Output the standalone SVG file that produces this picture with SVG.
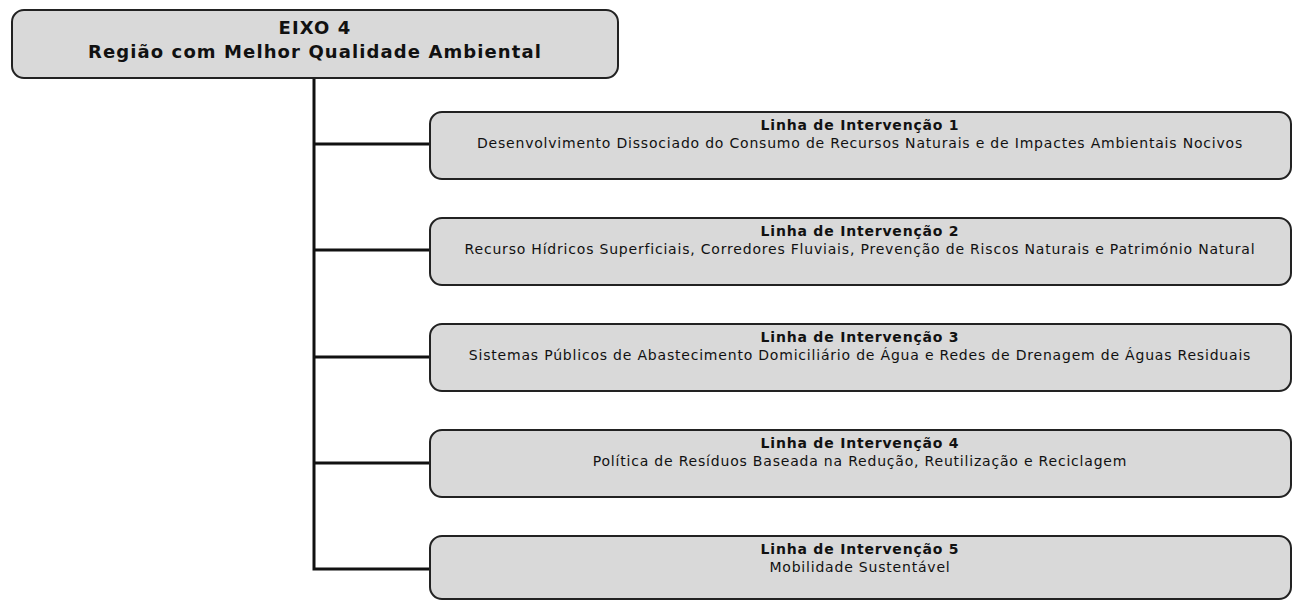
<svg xmlns="http://www.w3.org/2000/svg" width="1293" height="600" viewBox="0 0 1293 600">
<style>
.box{fill:#d9d9d9;stroke:#222;stroke-width:2}
.conn{fill:none;stroke:#111;stroke-width:3}
text{font-family:"DejaVu Sans",Verdana,sans-serif;fill:#111;text-anchor:middle}
.t{font-size:18px;font-weight:bold;letter-spacing:1.1px}
.h{font-size:14px;font-weight:bold;letter-spacing:0.8px}
.d{font-size:14px;letter-spacing:0.8px}
</style>
<rect width="1293" height="600" fill="#fff"/>
<g id="connectors">
<path class="conn" d="M314 78 V569 H430"/>
<path class="conn" d="M314 144 H430"/>
<path class="conn" d="M314 250 H430"/>
<path class="conn" d="M314 357 H430"/>
<path class="conn" d="M314 463 H430"/>
</g>
<g id="eixo4">
<rect class="box" x="12" y="10" width="606" height="68" rx="12"/>
<text class="t" x="315" y="34">EIXO 4</text>
<text class="t" x="315" y="58">Região com Melhor Qualidade Ambiental</text>
</g>
<g id="linha1">
<rect class="box" x="430" y="112" width="861" height="67" rx="12"/>
<text class="h" x="860" y="130">Linha de Intervenção 1</text>
<text class="d" x="860" y="148">Desenvolvimento Dissociado do Consumo de Recursos Naturais e de Impactes Ambientais Nocivos</text>
</g>
<g id="linha2">
<rect class="box" x="430" y="218" width="861" height="67" rx="12"/>
<text class="h" x="860" y="236">Linha de Intervenção 2</text>
<text class="d" x="860" y="254">Recurso Hídricos Superficiais, Corredores Fluviais, Prevenção de Riscos Naturais e Património Natural</text>
</g>
<g id="linha3">
<rect class="box" x="430" y="324" width="861" height="67" rx="12"/>
<text class="h" x="860" y="342">Linha de Intervenção 3</text>
<text class="d" x="860" y="360">Sistemas Públicos de Abastecimento Domiciliário de Água e Redes de Drenagem de Águas Residuais</text>
</g>
<g id="linha4">
<rect class="box" x="430" y="430" width="861" height="67" rx="12"/>
<text class="h" x="860" y="448">Linha de Intervenção 4</text>
<text class="d" x="860" y="466">Política de Resíduos Baseada na Redução, Reutilização e Reciclagem</text>
</g>
<g id="linha5">
<rect class="box" x="430" y="536" width="861" height="63" rx="12"/>
<text class="h" x="860" y="554">Linha de Intervenção 5</text>
<text class="d" x="860" y="572">Mobilidade Sustentável</text>
</g>
</svg>
